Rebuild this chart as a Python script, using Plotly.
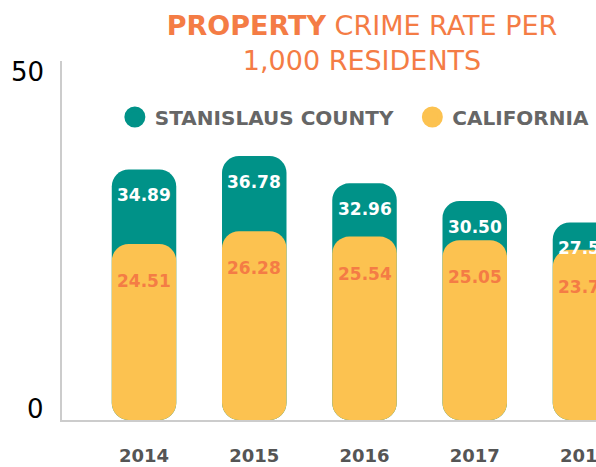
import plotly.graph_objects as go

years = ["2014", "2015", "2016", "2017", "2018"]
stanislaus = [34.89, 36.78, 32.96, 30.50, 27.52]
california = [24.51, 26.28, 25.54, 25.05, 23.71]

TEAL = "#009288"
YELLOW = "#FCC250"
ORANGE = "#F47C45"
GRAY = "#666666"
FONT = "DejaVu Sans"

BAR_W = 0.585
RADIUS = 17

fig = go.Figure()

# bars drawn from an explicit base of 0 -> rounded at both ends
fig.add_trace(go.Bar(x=years, y=stanislaus, base=[0] * len(years), width=BAR_W,
                     marker=dict(color=TEAL, line=dict(width=0)),
                     showlegend=False, hoverinfo="skip"))
fig.add_trace(go.Bar(x=years, y=california, base=[0] * len(years), width=BAR_W,
                     marker=dict(color=YELLOW, line=dict(width=0)),
                     showlegend=False, hoverinfo="skip"))

# legend entries (circle swatches)
for name, color in (("STANISLAUS COUNTY\u00a0\u00a0", TEAL), ("CALIFORNIA", YELLOW)):
    fig.add_trace(go.Scatter(x=[None], y=[None], mode="markers", name=name,
                             marker=dict(symbol="circle", size=16, color=color,
                                         line=dict(color=color, width=5))))

annotations = []
for i, v in enumerate(stanislaus):
    annotations.append(dict(x=i, y=v, xref="x", yref="y", text=f"{v:.2f}",
                            showarrow=False, yshift=-26,
                            font=dict(family=FONT, size=17, color="white", weight="bold")))
for i, v in enumerate(california):
    annotations.append(dict(x=i, y=v, xref="x", yref="y", text=f"{v:.2f}",
                            showarrow=False, yshift=-37,
                            font=dict(family=FONT, size=17, color=ORANGE, weight="bold")))
# y-axis labels
for val, shift in ((0, 11), (50, -11)):
    annotations.append(dict(x=0, y=val, xref="paper", yref="y", text=str(val),
                            showarrow=False, xanchor="right", xshift=-16, yshift=shift,
                            font=dict(family=FONT, size=26, color="black")))

fig.update_layout(
    template="none",
    width=596, height=467,
    margin=dict(l=62, r=0, t=61, b=47, pad=0),
    plot_bgcolor="white", paper_bgcolor="white",
    barmode="overlay", barcornerradius=RADIUS,
    title=dict(text="<b>PROPERTY</b> CRIME RATE PER<br>1,000 RESIDENTS",
               x=0.6074, xanchor="center", xref="container",
               y=0.925, yanchor="top", yref="container",
               font=dict(family=FONT, size=27, color=ORANGE)),
    legend=dict(orientation="h", x=0.099, xanchor="left", y=0.844, yanchor="middle",
                font=dict(family=FONT, size=20, color=GRAY, weight="bold"),
                bgcolor="rgba(0,0,0,0)", itemclick=False),
    annotations=annotations,
    showlegend=True,
)
fig.update_xaxes(type="category", range=[-0.744, 4.10], showline=True, linecolor="#cccccc",
                 linewidth=2, showgrid=False, zeroline=False, ticks="", ticklabelstandoff=18,
                 automargin=False,
                 tickfont=dict(family=FONT, size=18, color="#555555", weight="bold"))
fig.update_yaxes(range=[0, 50], showline=True, linecolor="#cccccc", linewidth=2,
                 showgrid=False, zeroline=False, showticklabels=False, ticks="",
                 automargin=False)

fig.write_html("out.html", config={"displayModeBar": False},
               post_script="document.body.style.margin='0';document.body.style.overflow='hidden';")
